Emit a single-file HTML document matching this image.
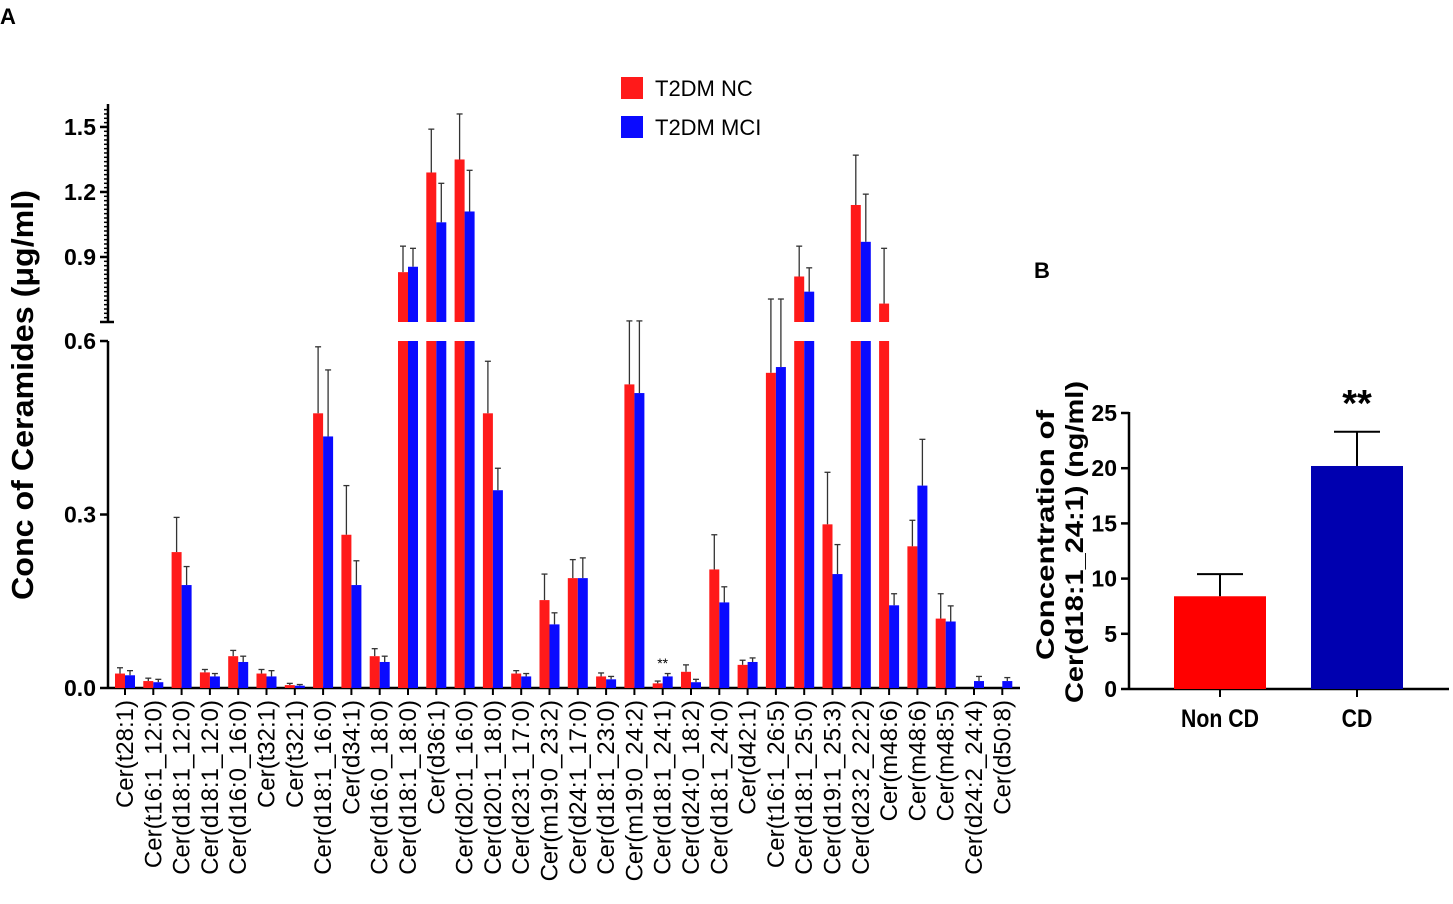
<!DOCTYPE html>
<html><head><meta charset="utf-8"><style>
html,body{margin:0;padding:0;background:#fff;}
svg{display:block;font-family:"Liberation Sans",Arial,sans-serif;}
</style></head><body>
<svg id="chart" width="1453" height="904" viewBox="0 0 1453 904">
<text x="0" y="24" font-size="22" font-weight="bold">A</text>
<text x="1034" y="278" font-size="22" font-weight="bold">B</text>
<g id="pa"></g>
<g id="pb"></g>
</svg>
<script>
const categories=["Cer(t28:1)","Cer(t16:1_12:0)","Cer(d18:1_12:0)","Cer(d18:1_12:0)","Cer(d16:0_16:0)","Cer(t32:1)","Cer(t32:1)","Cer(d18:1_16:0)","Cer(d34:1)","Cer(d16:0_18:0)","Cer(d18:1_18:0)","Cer(d36:1)","Cer(d20:1_16:0)","Cer(d20:1_18:0)","Cer(d23:1_17:0)","Cer(m19:0_23:2)","Cer(d24:1_17:0)","Cer(d18:1_23:0)","Cer(m19:0_24:2)","Cer(d18:1_24:1)","Cer(d24:0_18:2)","Cer(d18:1_24:0)","Cer(d42:1)","Cer(t16:1_26:5)","Cer(d18:1_25:0)","Cer(d19:1_25:3)","Cer(d23:2_22:2)","Cer(m48:6)","Cer(m48:6)","Cer(m48:5)","Cer(d24:2_24:4)","Cer(d50:8)"];
const ncValues=[0.025,0.012,0.235,0.027,0.055,0.025,0.005,0.475,0.265,0.055,0.83,1.29,1.35,0.475,0.025,0.152,0.19,0.02,0.525,0.008,0.028,0.205,0.04,0.545,0.81,0.283,1.14,0.685,0.245,0.12,0,0];
const ncErrTop=[0.035,0.017,0.295,0.032,0.065,0.032,0.008,0.59,0.35,0.068,0.95,1.49,1.56,0.565,0.03,0.197,0.222,0.026,0.605,0.012,0.04,0.265,0.048,0.706,0.95,0.373,1.37,0.94,0.29,0.163,0,0];
const mciValues=[0.022,0.01,0.178,0.02,0.045,0.02,0.004,0.435,0.178,0.045,0.855,1.06,1.11,0.342,0.02,0.11,0.19,0.015,0.51,0.02,0.01,0.148,0.045,0.555,0.74,0.197,0.97,0.143,0.35,0.115,0.012,0.012];
const mciErrTop=[0.03,0.015,0.21,0.025,0.055,0.03,0.006,0.55,0.22,0.055,0.94,1.24,1.3,0.38,0.025,0.13,0.225,0.02,0.605,0.025,0.015,0.175,0.052,0.706,0.85,0.248,1.19,0.163,0.43,0.142,0.02,0.018];
const lowTicks=[0,0.3,0.6];
const highTicks=[0.9,1.2,1.5];
const bGroups=["Non CD","CD"];
const bValues=[8.4,20.2];
const bErrTop=[10.4,23.3];
const bTicks=[0,5,10,15,20,25];

const NS="http://www.w3.org/2000/svg";
function mk(p,t,a,txt){const e=document.createElementNS(NS,t);for(const k in a)e.setAttribute(k,a[k]);if(txt!==undefined)e.textContent=txt;p.appendChild(e);return e;}
const pa=document.getElementById('pa'), pb=document.getElementById('pb');
const AX=108, Y0=688;
function yA(v){return v<=0.6? Y0-v*578.3 : 322-(v-0.6)*216.7;}
function xA(i){return 125+i*28.3;}
let e=mk(pa,'line',{x1:AX,y1:341,x2:AX,y2:Y0+1,stroke:'#000','stroke-width':2.5});

e=mk(pa,'line',{x1:AX,y1:104,x2:AX,y2:322,stroke:'#000','stroke-width':2.5});

mk(pa,'line',{x1:AX-8,y1:322,x2:AX+6,y2:322,stroke:'#000','stroke-width':2.5});
e=mk(pa,'line',{x1:AX,y1:Y0,x2:1020,y2:Y0,stroke:'#000','stroke-width':2.5});

for(let v=0.62;v<=1.6;v+=0.02){const y=yA(v);mk(pa,'line',{x1:AX-4,y1:y,x2:AX,y2:y,stroke:'#000','stroke-width':1.5});}
lowTicks.concat(highTicks).forEach(v=>{const y=yA(v);
 mk(pa,'line',{x1:AX-8,y1:y,x2:AX,y2:y,stroke:'#000','stroke-width':2.5});
 const t=mk(pa,'text',{x:AX-12,y:y+8,'font-size':23,'font-weight':'bold','text-anchor':'end'},v.toFixed(1));
 });
e=mk(pa,'text',{x:0,y:0,'font-size':31,'font-weight':'bold','text-anchor':'middle',transform:'translate(33,395) rotate(-90)',textLength:410,lengthAdjust:'spacingAndGlyphs'},'Conc of Ceramides (μg/ml)');

const BW=10;
function bar(x,v,err,col,name){
 const g=mk(pa,'g',{});
 
 const ty=yA(err), by=yA(v);
 if(err>v){mk(g,'line',{x1:x+BW/2,y1:ty,x2:x+BW/2,y2:by,stroke:'#333','stroke-width':1.3});
  mk(g,'line',{x1:x+BW/2-3,y1:ty,x2:x+BW/2+3,y2:ty,stroke:'#333','stroke-width':1.3});}
 if(v<=0.6){mk(g,'rect',{x:x,y:by,width:BW,height:Y0-by,fill:col});}
 else{mk(g,'rect',{x:x,y:341,width:BW,height:Y0-341,fill:col});
  mk(g,'rect',{x:x,y:by,width:BW,height:322-by,fill:col});}
}
categories.forEach((c,i)=>{
 const cx=xA(i);
 bar(cx-BW,ncValues[i],ncErrTop[i],'#ff1a1a','bar-nc-'+(i+1));
 bar(cx,mciValues[i],mciErrTop[i],'#0a0aff','bar-mci-'+(i+1));
 mk(pa,'line',{x1:cx,y1:Y0,x2:cx,y2:Y0+7,stroke:'#000','stroke-width':2});
 const t=mk(pa,'text',{x:0,y:0,'font-size':24,'text-anchor':'end',transform:`translate(${cx+8},${Y0+12}) rotate(-90)`},c);
 
});
e=mk(pa,'text',{x:xA(19),y:668,'font-size':14,'text-anchor':'middle'},'**');

e=mk(pa,'g',{});
let le=mk(e,'g',{});
mk(le,'rect',{x:621,y:77,width:22,height:22,fill:'#ff1a1a'});
mk(le,'text',{x:655,y:96,'font-size':22},'T2DM NC');
le=mk(e,'g',{});
mk(le,'rect',{x:621,y:116,width:22,height:22,fill:'#0a0aff'});
mk(le,'text',{x:655,y:135,'font-size':22},'T2DM MCI');

const BX=1129, BY0=689;
function yB(v){return BY0-v*11.04;}
const bx=[1220,1357];
e=mk(pb,'line',{x1:BX,y1:412,x2:BX,y2:BY0,stroke:'#000','stroke-width':2.5});

e=mk(pb,'line',{x1:BX,y1:BY0,x2:1449,y2:BY0,stroke:'#000','stroke-width':2.5});

bTicks.forEach(v=>{const y=yB(v);mk(pb,'line',{x1:BX-8,y1:y,x2:BX,y2:y,stroke:'#000','stroke-width':2.5});
 const t=mk(pb,'text',{x:BX-12,y:y+8,'font-size':23,'font-weight':'bold','text-anchor':'end'},String(v));
 });
const bCols=['#ff0000','#0000b0'];
bGroups.forEach((gname,i)=>{
 const g=mk(pb,'g',{});
 
 const x=bx[i], ty=yB(bErrTop[i]), vy=yB(bValues[i]);
 mk(g,'line',{x1:x,y1:ty,x2:x,y2:vy,stroke:'#000','stroke-width':2});
 mk(g,'line',{x1:x-23,y1:ty,x2:x+23,y2:ty,stroke:'#000','stroke-width':2});
 mk(g,'rect',{x:x-46,y:vy,width:92,height:BY0-vy,fill:bCols[i]});
 mk(pb,'line',{x1:x,y1:BY0,x2:x,y2:BY0+8,stroke:'#000','stroke-width':2});
 const t=mk(pb,'text',{x:x,y:727,'font-size':25,'font-weight':'bold','text-anchor':'middle',transform:`translate(${x},727) scale(0.85,1) translate(${-x},-727)`},gname);
 
});
e=mk(pb,'text',{x:bx[1],y:416,'font-size':38,'font-weight':'bold','text-anchor':'middle'},'**');

e=mk(pb,'text',{x:0,y:0,'font-size':25,'font-weight':'bold','text-anchor':'middle',transform:'translate(1054,535) rotate(-90)',textLength:250,lengthAdjust:'spacingAndGlyphs'},'Concentration  of');

e=mk(pb,'text',{x:0,y:0,'font-size':25,'font-weight':'bold','text-anchor':'middle',transform:'translate(1083,542) rotate(-90)',textLength:322,lengthAdjust:'spacingAndGlyphs'},'Cer(d18:1_24:1) (ng/ml)');

</script>
</body></html>
